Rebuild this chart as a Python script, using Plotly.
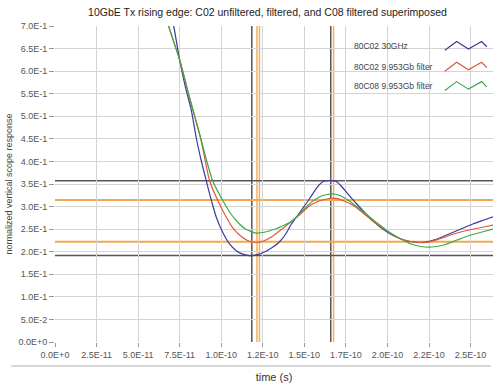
import plotly.graph_objects as go

# ---- data (time in seconds, normalized response) ----
t_blue = [6.90e-11, 7.14e-11, 7.50e-11, 7.86e-11, 8.20e-11, 8.50e-11, 8.76e-11, 9.10e-11, 9.40e-11,
          9.72e-11, 10.08e-11, 10.50e-11, 10.92e-11, 11.34e-11, 11.80e-11, 12.18e-11, 12.60e-11,
          13.02e-11, 13.50e-11, 13.92e-11, 14.22e-11, 14.70e-11, 15.30e-11, 15.78e-11, 16.14e-11,
          16.50e-11, 16.86e-11, 17.16e-11, 17.58e-11, 18.10e-11, 18.60e-11, 19.20e-11, 19.80e-11,
          20.40e-11, 21.00e-11, 21.60e-11, 22.30e-11, 22.98e-11, 23.70e-11, 24.42e-11, 25.14e-11,
          25.80e-11, 26.40e-11]
v_blue = [0.735, 0.700, 0.6246, 0.5626, 0.5139, 0.4519, 0.4076, 0.3573, 0.3145,
          0.2747, 0.2437, 0.2171, 0.2016, 0.1940, 0.1910, 0.1935, 0.1994,
          0.2082, 0.2215, 0.2414, 0.2614, 0.2857, 0.3167, 0.3433, 0.3555,
          0.3577, 0.3566, 0.3478, 0.3300, 0.3079, 0.2880, 0.2658, 0.2481,
          0.2348, 0.2259, 0.2215, 0.2215, 0.2281, 0.2392, 0.2503, 0.2614,
          0.2702, 0.2780]

t_red = [6.66e-11, 6.84e-11, 7.50e-11, 8.10e-11, 8.76e-11, 9.30e-11, 9.78e-11, 10.20e-11, 10.62e-11,
         11.10e-11, 11.58e-11, 12.06e-11, 12.54e-11, 13.02e-11, 13.50e-11, 14.20e-11, 14.70e-11,
         15.30e-11, 15.90e-11, 16.50e-11, 16.92e-11, 17.40e-11, 18.00e-11, 18.60e-11, 19.20e-11,
         19.80e-11, 20.40e-11, 21.00e-11, 21.60e-11, 22.30e-11, 23.10e-11, 24.00e-11, 24.90e-11,
         25.80e-11, 26.40e-11]
v_red = [0.735, 0.700, 0.6246, 0.5405, 0.4519, 0.3573, 0.3145, 0.2835, 0.2569,
         0.2370, 0.2248, 0.2204, 0.2237, 0.2326, 0.2459, 0.2665, 0.2813,
         0.3012, 0.3123, 0.3179, 0.3183, 0.3123, 0.3012, 0.2835, 0.2658,
         0.2503, 0.2348, 0.2259, 0.2215, 0.2204, 0.2281, 0.2392, 0.2481,
         0.2547, 0.2592]

t_green = [6.66e-11, 6.84e-11, 7.50e-11, 8.10e-11, 8.76e-11, 9.48e-11, 10.08e-11, 10.50e-11, 10.98e-11,
           11.46e-11, 12.10e-11, 12.66e-11, 13.26e-11, 13.80e-11, 14.20e-11, 14.70e-11, 15.30e-11,
           15.90e-11, 16.38e-11, 16.80e-11, 17.22e-11, 17.70e-11, 18.18e-11, 18.78e-11, 19.38e-11,
           20.10e-11, 20.70e-11, 21.42e-11, 22.02e-11, 22.68e-11, 23.40e-11, 24.18e-11, 25.02e-11,
           25.80e-11, 26.40e-11]
v_green = [0.735, 0.700, 0.6246, 0.5405, 0.4519, 0.3573, 0.3145, 0.2880, 0.2658,
           0.2503, 0.2414, 0.2437, 0.2503, 0.2592, 0.2665, 0.2835, 0.3057,
           0.3212, 0.3267, 0.3278, 0.3234, 0.3123, 0.2990, 0.2813, 0.2636,
           0.2437, 0.2304, 0.2171, 0.2115, 0.2104, 0.2149, 0.2259, 0.2370,
           0.2448, 0.2503]

series_names = ["80C02 30GHz", "80C02 9.953Gb filter", "80C08 9.953Gb filter"]
series_colors = ["#3b3b9e", "#e0583c", "#3aaa4a"]

# cursor lines
vcursor_black = [1.184e-10, 1.659e-10]
vcursor_orange = [1.215e-10, 1.230e-10, 1.676e-10]
hcursor_black = [0.3573, 0.1916]
hcursor_orange = [0.3145, 0.2222]

x_tickvals = [0, 2.5e-11, 5.0e-11, 7.5e-11, 1.0e-10, 1.25e-10, 1.5e-10, 1.75e-10, 2.0e-10, 2.25e-10, 2.5e-10]
x_ticktext = ["0.0E+0", "2.5E-11", "5.0E-11", "7.5E-11", "1.0E-10", "1.2E-10", "1.5E-10",
              "1.7E-10", "2.0E-10", "2.2E-10", "2.5E-10"]
y_tickvals = [0, 0.05, 0.1, 0.15, 0.2, 0.25, 0.3, 0.35, 0.4, 0.45, 0.5, 0.55, 0.6, 0.65, 0.7]
y_ticktext = ["0.0E+0", "5.0E-2", "1.0E-1", "1.5E-1", "2.0E-1", "2.5E-1", "3.0E-1", "3.5E-1",
              "4.0E-1", "4.5E-1", "5.0E-1", "5.5E-1", "6.0E-1", "6.5E-1", "7.0E-1"]

FONT = "Liberation Sans, Arial, sans-serif"

fig = go.Figure()
for t, v, name, col in zip([t_blue, t_red, t_green], [v_blue, v_red, v_green], series_names, series_colors):
    fig.add_trace(go.Scatter(x=t, y=v, mode="lines", name=name, showlegend=False,
                             line=dict(color=col, width=1.2, shape="spline", smoothing=0.6)))

shapes = []
for xv in vcursor_black:
    shapes.append(dict(type="line", xref="x", yref="paper", x0=xv, x1=xv, y0=0, y1=1,
                       line=dict(color="#555555", width=1.5), layer="below"))
for xv in vcursor_orange:
    shapes.append(dict(type="line", xref="x", yref="paper", x0=xv, x1=xv, y0=0, y1=1,
                       line=dict(color="#f2b060", width=1.5), layer="below"))
for yv in hcursor_black:
    shapes.append(dict(type="line", xref="paper", yref="y", x0=0, x1=1, y0=yv, y1=yv,
                       line=dict(color="#555555", width=1.5), layer="below"))
for yv in hcursor_orange:
    shapes.append(dict(type="line", xref="paper", yref="y", x0=0, x1=1, y0=yv, y1=yv,
                       line=dict(color="#f2a852", width=2), layer="below"))
# separator line under tick labels
shapes.append(dict(type="line", xref="paper", yref="paper", x0=-0.1, x1=0.995, y0=-0.076, y1=-0.076,
                   line=dict(color="#c8c8c8", width=1.5)))

# custom legend: text on the left, zigzag sample on the right
annotations = []
legend_rows_y = [0.937, 0.871, 0.81]
for name, col, ly in zip(series_names, series_colors, legend_rows_y):
    annotations.append(dict(text=name, xref="paper", yref="paper", x=0.678, y=ly,
                            xanchor="left", yanchor="middle", showarrow=False,
                            font=dict(family=FONT, size=8.5, color="#444444")))
    d = 0.014
    xs = [0.890, 0.917, 0.944, 0.974, 0.986]
    ys = [ly - d, ly + d, ly - d * 0.7, ly + d, ly - d * 0.2]
    path = "M " + " L ".join(f"{a},{b}" for a, b in zip(xs, ys))
    shapes.append(dict(type="path", xref="paper", yref="paper", path=path,
                       line=dict(color=col, width=1.2)))

fig.update_layout(
    width=500, height=387,
    margin=dict(l=55, r=7, t=26, b=45),
    paper_bgcolor="white", plot_bgcolor="white",
    title=dict(text="10GbE Tx rising edge: C02 unfiltered, filtered, and C08 filtered superimposed",
               x=0.535, xanchor="center", y=0.969, yanchor="middle",
               font=dict(family=FONT, size=10.5, color="#222222")),
    font=dict(family=FONT, size=9, color="#555555"),
    shapes=shapes, annotations=annotations,
    xaxis=dict(range=[0, 2.635e-10], tickvals=x_tickvals, ticktext=x_ticktext,
               showgrid=True, gridcolor="#d4d4d4", gridwidth=1, zeroline=False,
               showline=False, ticks="outside", ticklen=4, tickcolor="#999999",
               tickfont=dict(family=FONT, size=9, color="#555555"), automargin=False,
               title=dict(text="time (s)", standoff=14,
                          font=dict(family=FONT, size=11, color="#333333"))),
    yaxis=dict(range=[0, 0.7], tickvals=y_tickvals, ticktext=y_ticktext,
               showgrid=True, gridcolor="#d4d4d4", gridwidth=1, zeroline=False,
               showline=False, ticks="outside", ticklen=5, tickcolor="#999999",
               tickfont=dict(family=FONT, size=9, color="#555555"), automargin=False,
               title=dict(text="normalized vertical scope response", standoff=4,
                          font=dict(family=FONT, size=9, color="#444444"))),
)

fig.write_html("out.html", config={"displayModeBar": False},
               post_script="document.body.style.margin='0px';")
